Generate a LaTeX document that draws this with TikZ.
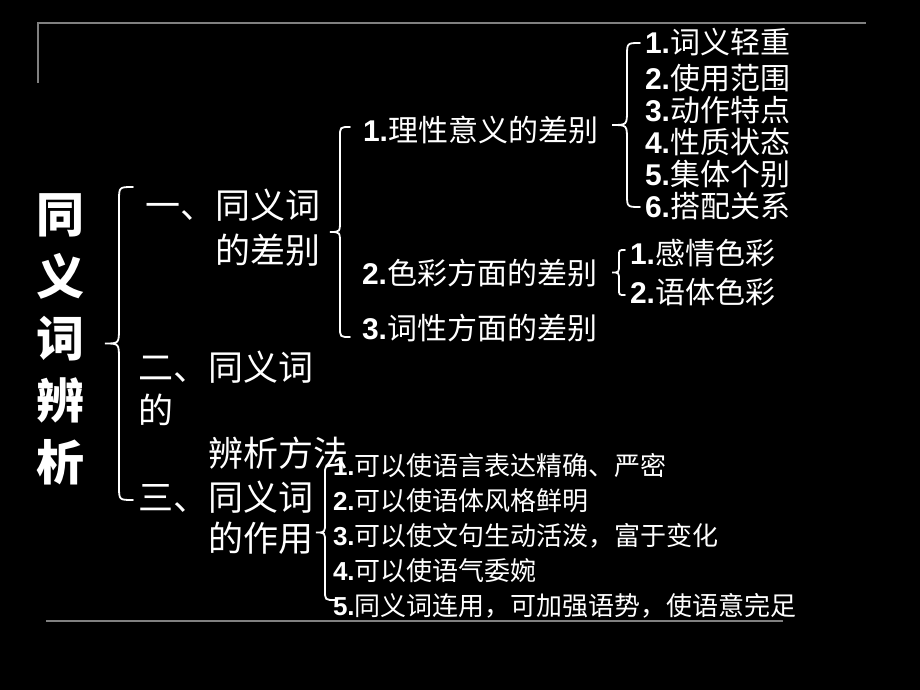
\documentclass[tikz,border=0pt]{standalone}
\usepackage{fontspec}
\setmainfont{Noto Sans CJK SC}
\newfontfamily\numf{Liberation Sans}
\newcommand\nb[1]{{\numf\bfseries #1.}}
\newcommand\mybrace[6]{% spine x, top y, bottom y, end curl, tip width, tip height
  \draw[bracepen] ({#1+#4},#2) .. controls (#1,#2) .. (#1,{#2+#4})
    -- (#1,{(#2+#3)/2-#6}) .. controls (#1,{(#2+#3)/2}) .. ({#1-#5},{(#2+#3)/2})
    .. controls (#1,{(#2+#3)/2}) .. (#1,{(#2+#3)/2+#6})
    -- (#1,{#3-#4}) .. controls (#1,#3) .. ({#1+#4},#3);
}
\tikzset{
  txt/.style={text=white, inner sep=0pt, outer sep=0pt},
  blockA/.style={txt, align=left, anchor=north west},
  lineB/.style={txt, anchor=west, font=\fontsize{30}{36}\selectfont},
  bracepen/.style={draw=white, line width=1.8pt, line cap=round},
  framepen/.style={draw=black!50, line width=1.5pt}
}
\begin{document}
\begin{tikzpicture}[x=1pt,y=-1pt]
\useasboundingbox (0,0) rectangle (920,690);
\fill[black] (0,0) rectangle (920,690);
% frame lines
\draw[framepen] (38,83) -- (38,23) -- (866,23);
\draw[framepen] (46,621) -- (783,621);
% title
\node[txt, anchor=north, align=center, font=\fontsize{48}{62}\selectfont\bfseries] (title) at (60,194)
  {同\\义\\词\\辨\\析};
% level A
\node[blockA, font=\fontsize{35}{45}\selectfont] (a1) at (145,189)
  {一、同义词\\\phantom{一、}的差别};
\node[blockA, font=\fontsize{35}{43}\selectfont] (a2) at (138,351)
  {二、同义词\\的\\\phantom{二、}辨析方法};
\node[blockA, font=\fontsize{35}{41}\selectfont] (a3) at (138,481)
  {三、同义词\\\phantom{三、}的作用};
% level B
\node[lineB] (b1) at (363,130) {\nb{1}理性意义的差别};
\node[lineB] (b2) at (362,273) {\nb{2}色彩方面的差别};
\node[lineB] (b3) at (362,328) {\nb{3}词性方面的差别};
% level C
\node[blockA, font=\fontsize{30}{32}\selectfont] (c1) at (645,28.5)
  {\nb{1}词义轻重\\[4pt]\nb{2}使用范围\\\nb{3}动作特点\\\nb{4}性质状态\\\nb{5}集体个别\\\nb{6}搭配关系};
\node[blockA, font=\fontsize{30}{39}\selectfont] (c2) at (630,239.5)
  {\nb{1}感情色彩\\\nb{2}语体色彩};
\node[blockA, font=\fontsize{26}{35}\selectfont] (c3) at (333,453)
  {\nb{1}可以使语言表达精确、严密\\\nb{2}可以使语体风格鲜明\\\nb{3}可以使文句生动活泼，富于变化\\\nb{4}可以使语气委婉\\\nb{5}同义词连用，可加强语势，使语意完足};
% braces
\mybrace{119}{187}{500}{14}{14}{16}
\mybrace{340}{127}{337}{10}{10}{12}
\mybrace{627}{43}{207}{13}{15}{15}
\mybrace{619}{250}{295}{6}{7}{8}
\mybrace{325}{465}{600}{10}{9}{10}
\end{tikzpicture}
\end{document}
